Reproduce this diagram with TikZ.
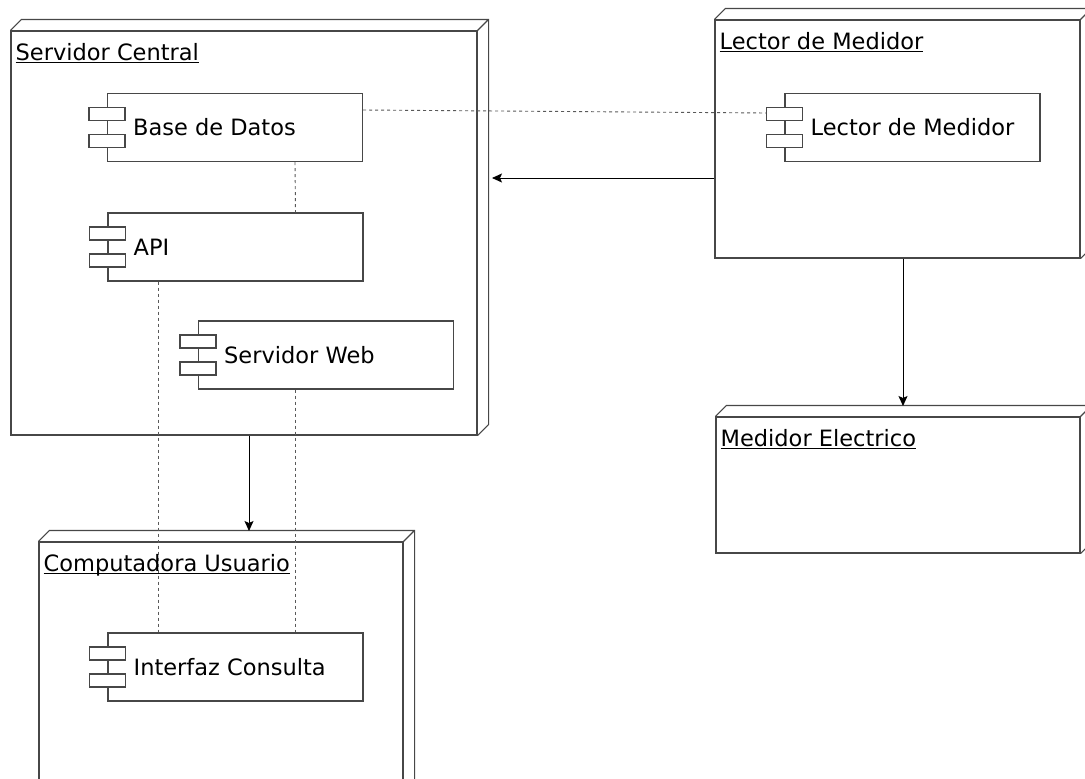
\documentclass[tikz,border=0pt]{standalone}
\usepackage{fontspec}
\setmainfont{DejaVu Sans}
\usetikzlibrary{arrows.meta}

\colorlet{linegray}{black!72}
\newcommand{\ultitle}[1]{\underline{\raisebox{0pt}[\height][0pt]{#1}}}
% side faces of a 3d node box
\newcommand{\depthfaces}[1]{%
  \draw[boxline] (#1.north west) -- ++(11,-11) -- ([shift={(11,-11)}]#1.north east)
    -- ([shift={(11,-11)}]#1.south east) -- (#1.south east)
    (#1.north east) -- ++(11,-11);}
% the two small tabs of a component
\newcommand{\comptabs}[1]{%
  \draw[boxline, fill=white] ([shift={(-18,-20)}]#1.west) rectangle ([shift={(18,-7)}]#1.west);
  \draw[boxline, fill=white] ([shift={(-18,7)}]#1.west) rectangle ([shift={(18,20)}]#1.west);}

\begin{document}
\begin{tikzpicture}[x=1pt, y=-1pt,
  font=\fontsize{22.5}{27}\selectfont,
  boxline/.style={draw=linegray, line width=1.1pt},
  title/.style={anchor=north west, inner sep=0pt, xshift=5pt, yshift=-13pt},
  comptext/.style={anchor=west, inner sep=0pt, xshift=26pt}]
\useasboundingbox (0,0) rectangle (1085,779);

\begin{scope}[every node/.style={boxline, fill=white, inner sep=0pt}]
    \node[minimum width=466pt, minimum height=404pt] (srv) at (244,233) {};
    \node[minimum width=365pt, minimum height=238pt] (lec) at (897.5,139) {};
    \node[minimum width=364pt, minimum height=136pt] (med) at (898,485) {};
    \node[minimum width=364pt, minimum height=270pt] (comp) at (221,677) {};
\end{scope}
\depthfaces{srv}
\depthfaces{lec}
\depthfaces{med}
\depthfaces{comp}
\node[title] (srvtitle) at (srv.north west) {\ultitle{Servidor Central}};
\node[title] (lectitle) at (lec.north west) {\ultitle{Lector de Medidor}};
\node[title] (medtitle) at (med.north west) {\ultitle{Medidor Electrico}};
\node[title] (comptitle) at (comp.north west) {\ultitle{Computadora Usuario}};

\begin{scope}[every node/.style={boxline, fill=white, inner sep=0pt, minimum width=255pt, minimum height=68pt}]
    \node (bd) at (235,127.5) {};
    \node (api) at (235.5,247) {};
    \node (web) at (326,355) {};
    \node (intf) at (235.5,667) {};
    \node (lcomp) at (912.5,127.5) {};
\end{scope}
\comptabs{bd}
\comptabs{api}
\comptabs{web}
\comptabs{intf}
\comptabs{lcomp}
\node[comptext] (bdtext) at (bd.west) {Base de Datos};
\node[comptext] (apitext) at (api.west) {API};
\node[comptext] (webtext) at (web.west) {Servidor Web};
\node[comptext] (intftext) at (intf.west) {Interfaz Consulta};
\node[comptext] (lcomptext) at (lcomp.west) {Lector de Medidor};

\coordinate (srvin) at (492,178);
\coordinate (comptop) at (249,531);
\coordinate (medtop) at (903,406);

\begin{scope}[every edge/.style={draw=black, line width=0.9pt, -{Stealth[length=10pt, width=9pt, inset=2pt]}}]
    \path (lec.west |- srvin) edge (srvin);
    \path (srv.south -| comptop) edge (comptop);
    \path (lec.south -| medtop) edge (medtop);
\end{scope}

\begin{scope}[every edge/.style={draw=black!65, line width=0.9pt, dash pattern=on 3pt off 3pt}]
    \path ([yshift=17.5pt]bd.east) edge ([shift={(-18,-14.5)}]lcomp.west);
    \path ([xshift=60pt]bd.south) edge ([xshift=60pt]api.north);
    \path ([xshift=-77.5pt]api.south) edge ([xshift=-77.5pt]intf.north);
    \path ([xshift=-31pt]web.south) edge ([xshift=-31pt]web.south |- intf.north);
\end{scope}
\end{tikzpicture}
\end{document}
